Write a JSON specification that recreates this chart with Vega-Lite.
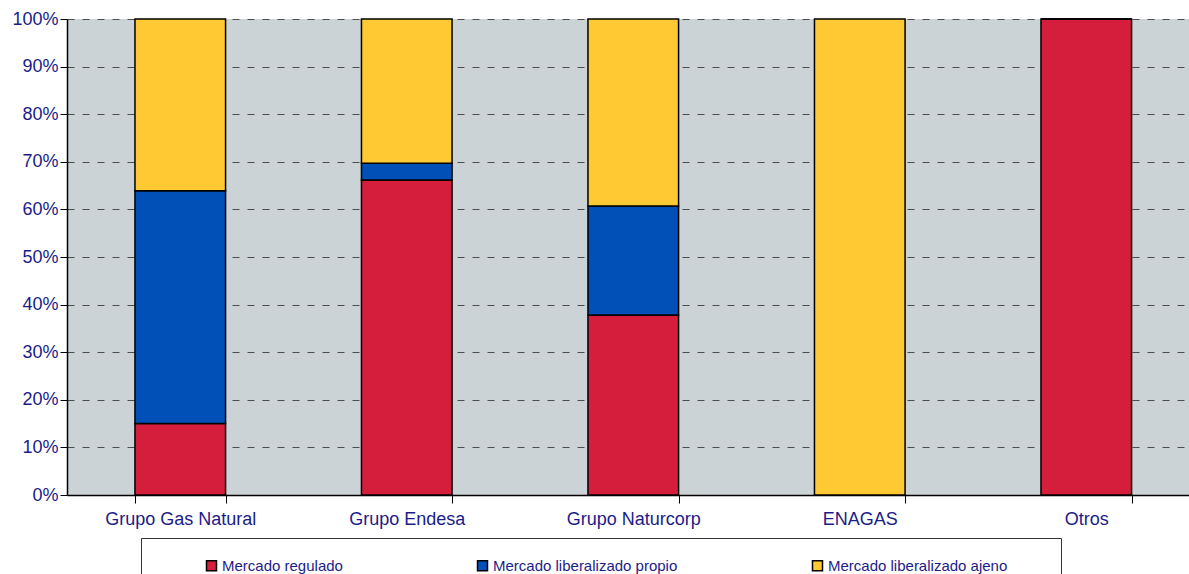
{
  "$schema": "https://vega.github.io/schema/vega-lite/v6.json",
  "width": 1122,
  "height": 476,
  "autosize": {"type": "none"},
  "padding": {"left": 67, "top": 19, "right": 0, "bottom": 79},
  "background": "white",
  "config": {
    "view": {"fill": "#cbd3d6", "stroke": null},
    "font": "Liberation Sans"
  },
  "data": {
    "values": [
      {"empresa": "Grupo Gas Natural", "mercado": "Mercado regulado", "orden": 1, "valor": 15.0},
      {"empresa": "Grupo Gas Natural", "mercado": "Mercado liberalizado propio", "orden": 2, "valor": 48.9},
      {"empresa": "Grupo Gas Natural", "mercado": "Mercado liberalizado ajeno", "orden": 3, "valor": 36.1},
      {"empresa": "Grupo Endesa", "mercado": "Mercado regulado", "orden": 1, "valor": 66.2},
      {"empresa": "Grupo Endesa", "mercado": "Mercado liberalizado propio", "orden": 2, "valor": 3.5},
      {"empresa": "Grupo Endesa", "mercado": "Mercado liberalizado ajeno", "orden": 3, "valor": 30.3},
      {"empresa": "Grupo Naturcorp", "mercado": "Mercado regulado", "orden": 1, "valor": 37.8},
      {"empresa": "Grupo Naturcorp", "mercado": "Mercado liberalizado propio", "orden": 2, "valor": 22.9},
      {"empresa": "Grupo Naturcorp", "mercado": "Mercado liberalizado ajeno", "orden": 3, "valor": 39.3},
      {"empresa": "ENAGAS", "mercado": "Mercado regulado", "orden": 1, "valor": 0},
      {"empresa": "ENAGAS", "mercado": "Mercado liberalizado propio", "orden": 2, "valor": 0},
      {"empresa": "ENAGAS", "mercado": "Mercado liberalizado ajeno", "orden": 3, "valor": 100},
      {"empresa": "Otros", "mercado": "Mercado regulado", "orden": 1, "valor": 100},
      {"empresa": "Otros", "mercado": "Mercado liberalizado propio", "orden": 2, "valor": 0},
      {"empresa": "Otros", "mercado": "Mercado liberalizado ajeno", "orden": 3, "valor": 0}
    ]
  },
  "mark": {"type": "bar", "stroke": "#000000", "strokeWidth": 1.5},
  "encoding": {
    "x": {
      "field": "empresa",
      "type": "nominal",
      "sort": ["Grupo Gas Natural", "Grupo Endesa", "Grupo Naturcorp", "ENAGAS", "Otros"],
      "scale": {"paddingInner": 0.6, "paddingOuter": 0.2768, "align": 0.542},
      "axis": {
        "title": null,
        "labelAngle": 0,
        "labelFontSize": 18,
        "labelColor": "#1c1c88",
        "labelPadding": 7,
        "tickBand": "extent",
        "tickSize": 8,
        "tickColor": "#000000",
        "domainColor": "#000000",
        "domainWidth": 1.5,
        "grid": false
      }
    },
    "y": {
      "field": "valor",
      "type": "quantitative",
      "stack": "normalize",
      "scale": {"domain": [0, 1]},
      "axis": {
        "title": null,
        "format": ".0%",
        "values": [0, 0.1, 0.2, 0.3, 0.4, 0.5, 0.6, 0.7, 0.8, 0.9, 1],
        "labelFontSize": 18,
        "labelColor": "#1c1c88",
        "labelPadding": 2,
        "tickSize": 7,
        "tickColor": "#000000",
        "domainColor": "#000000",
        "domainWidth": 1.5,
        "grid": true,
        "gridColor": "#4d4d4d",
        "gridDash": [7, 8],
        "gridWidth": 1.2
      }
    },
    "color": {
      "field": "mercado",
      "type": "nominal",
      "sort": ["Mercado regulado", "Mercado liberalizado propio", "Mercado liberalizado ajeno"],
      "scale": {
        "domain": ["Mercado regulado", "Mercado liberalizado propio", "Mercado liberalizado ajeno"],
        "range": ["#d41e3c", "#0050b8", "#ffc933"]
      },
      "legend": {
        "orient": "none",
        "legendX": 74,
        "legendY": 519,
        "direction": "horizontal",
        "columns": 3,
        "columnPadding": 131,
        "title": "\u00a0",
        "titleOrient": "left",
        "titlePadding": 43,
        "titleFontSize": 15,
        "padding": 20,
        "strokeColor": "#333333",
        "fillColor": "#ffffff",
        "symbolType": "square",
        "symbolSize": 100,
        "symbolStrokeColor": "#000000",
        "symbolStrokeWidth": 1.5,
        "labelFontSize": 15,
        "labelColor": "#1c1c88",
        "labelOffset": 3,
        "labelLimit": 500,
        "labelExpr": "datum.label == 'Mercado liberalizado ajeno' ? datum.label + '\u2800\u2800\u2800' : datum.label"
      }
    },
    "order": {"field": "orden", "type": "quantitative"}
  }
}
